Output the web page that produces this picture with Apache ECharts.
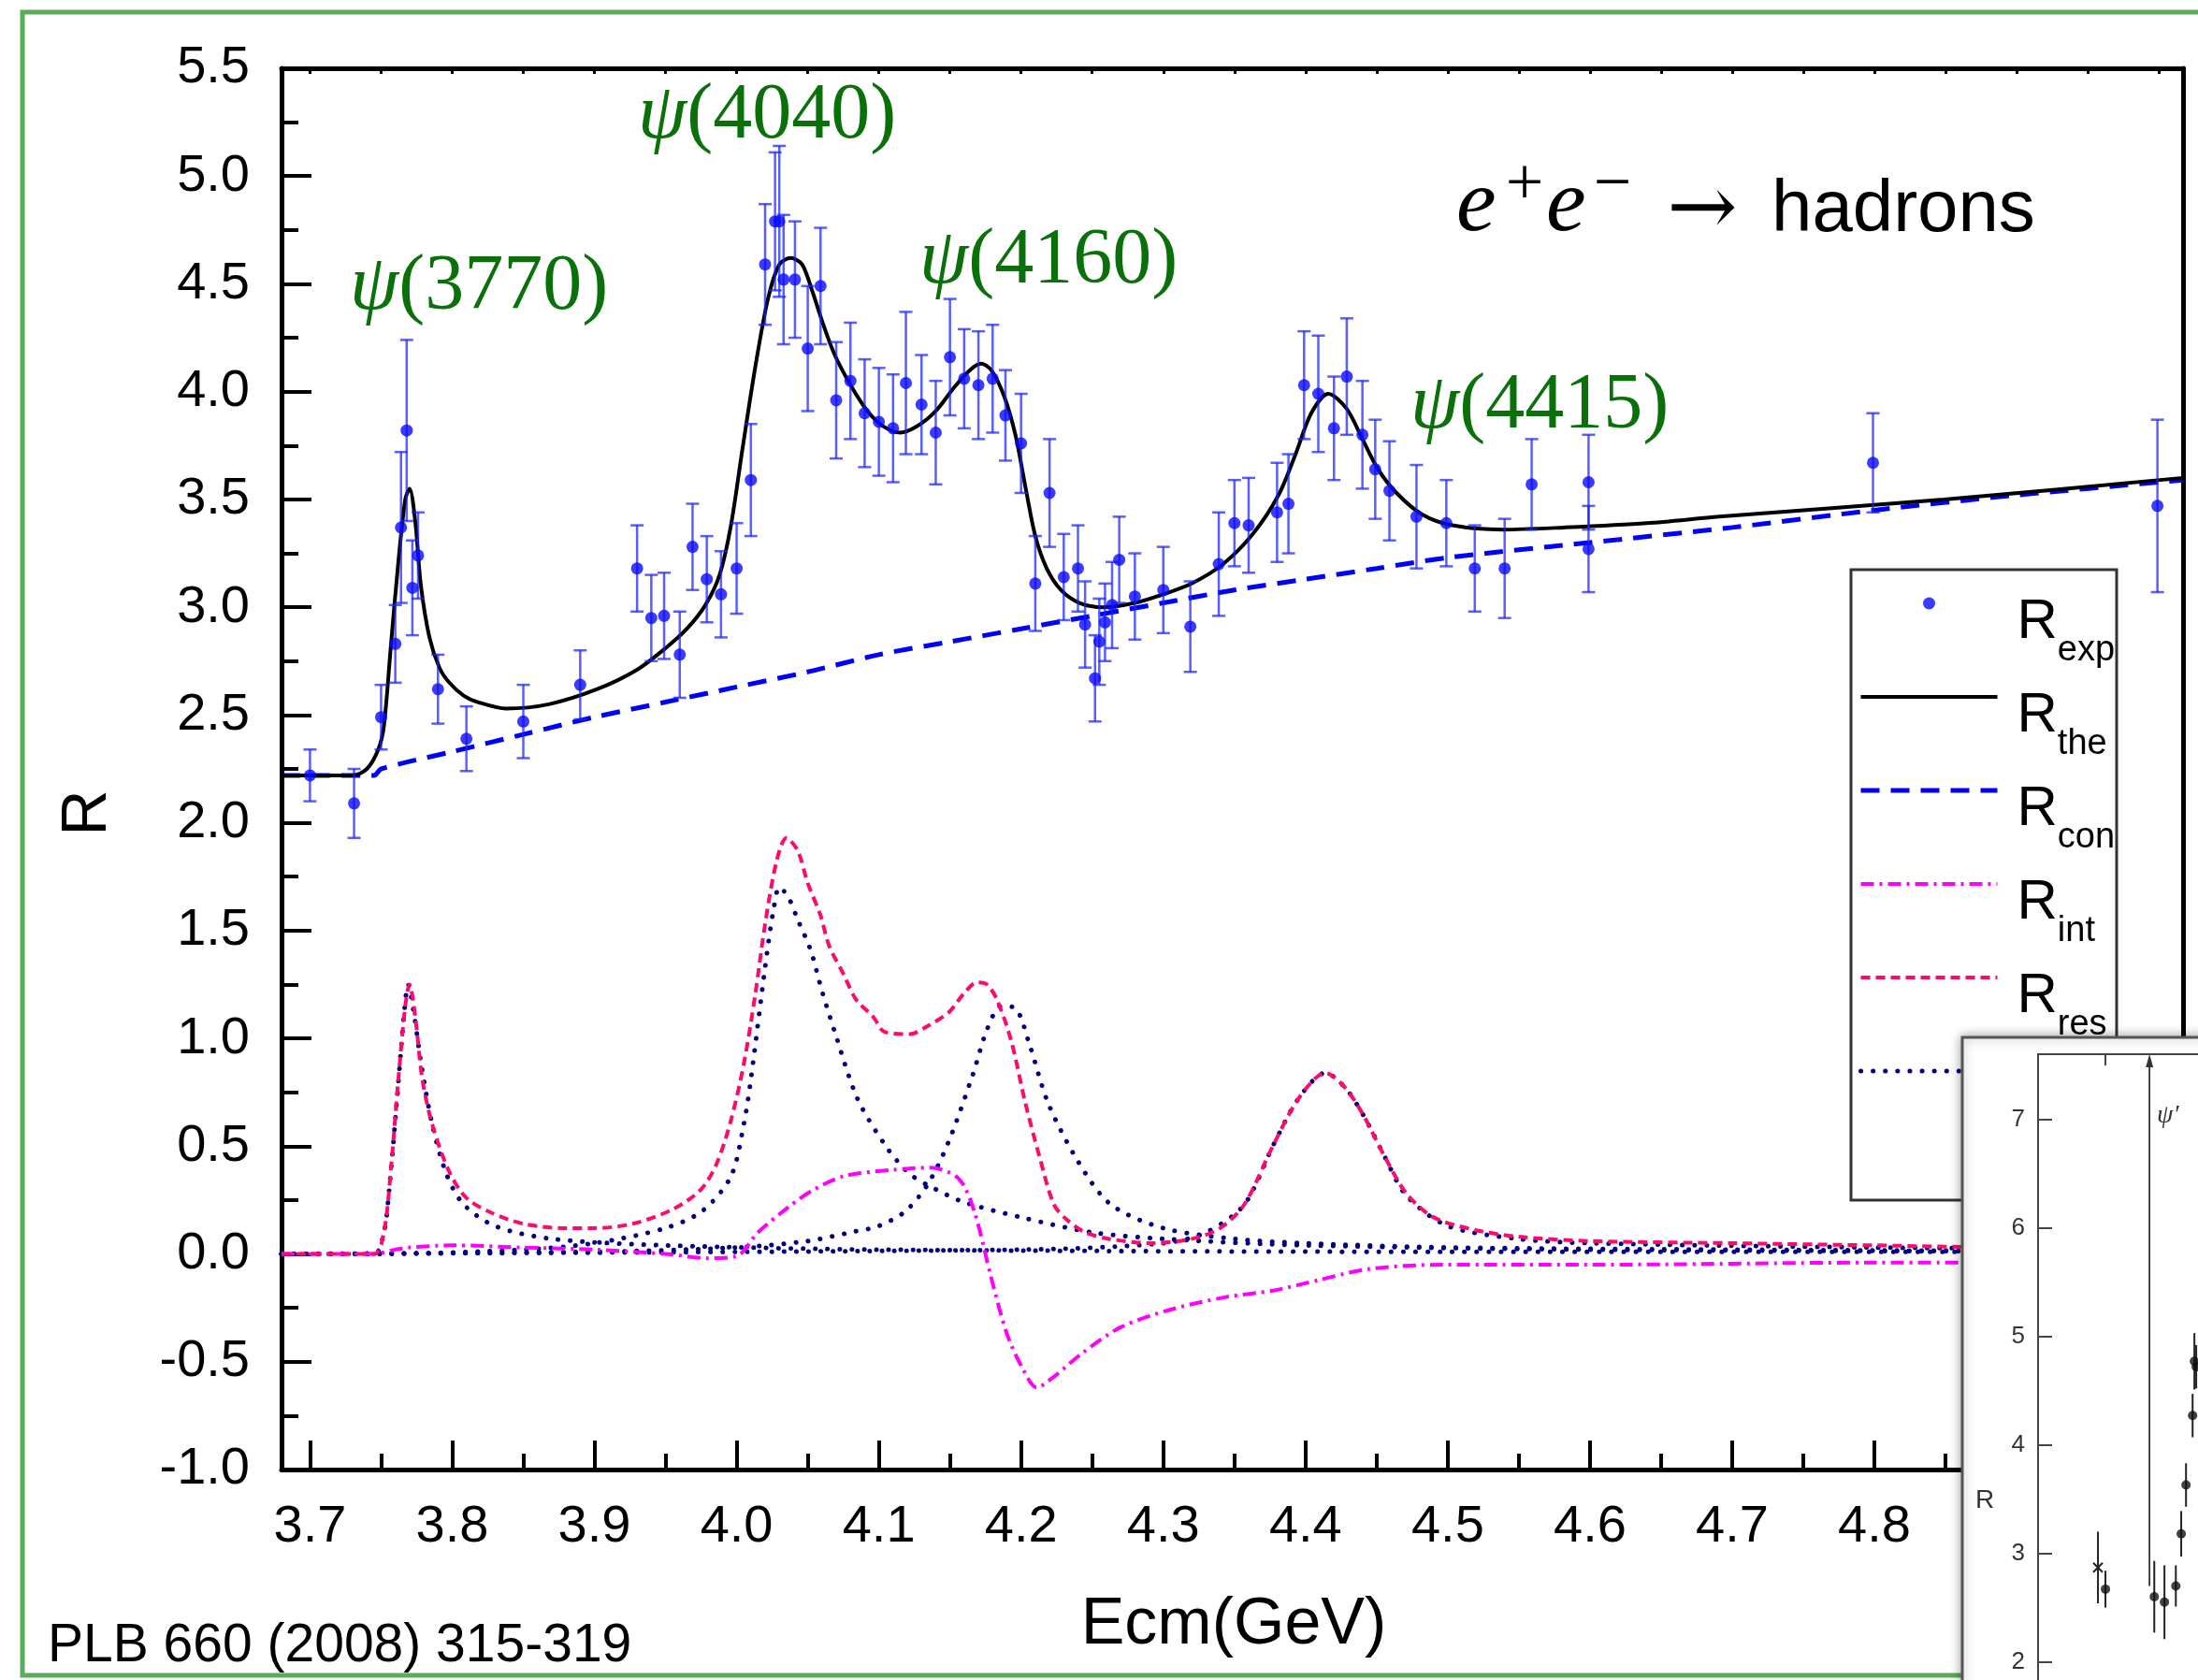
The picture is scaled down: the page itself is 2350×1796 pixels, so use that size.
<!DOCTYPE html>
<html><head><meta charset="utf-8">
<script src="https://cdn.jsdelivr.net/npm/echarts@6/dist/echarts.min.js"></script>
<style>html,body{margin:0;padding:0;background:#fff}#c{width:2350px;height:1796px}</style>
</head><body><div id="c"></div>
<script>
// ---------- axis ticks ----------
const X_MAJOR = [3.7,3.8,3.9,4.0,4.1,4.2,4.3,4.4,4.5,4.6,4.7,4.8,4.9,5.0];
const X_LABELS = [3.7,3.8,3.9,4.0,4.1,4.2,4.3,4.4,4.5,4.6,4.7,4.8];
const X_MINOR = [3.75,3.85,3.95,4.05,4.15,4.25,4.35,4.45,4.55,4.65,4.75,4.85,4.95];
const X_TOP = [3.7,3.75,3.8,3.85,3.9,3.95,4.0,4.05,4.1,4.15,4.2,4.25,4.3,4.35,4.4,4.45,4.5,4.55,4.6,4.65,4.7,4.75,4.8,4.85,4.9,4.95,5.0];

// ---------- experimental points [E, R, error] ----------
const R_EXP = [
 [3.700,2.22,0.12],[3.731,2.09,0.16],[3.750,2.49,0.15],[3.760,2.83,0.18],[3.764,3.37,0.35],
 [3.768,3.82,0.42],[3.772,3.09,0.22],[3.776,3.24,0.20],[3.790,2.62,0.16],[3.810,2.39,0.15],
 [3.850,2.47,0.17],[3.890,2.64,0.16],[3.930,3.18,0.20],[3.940,2.95,0.20],[3.949,2.96,0.20],
 [3.960,2.78,0.20],[3.969,3.28,0.20],[3.979,3.13,0.20],[3.989,3.06,0.20],[4.000,3.18,0.21],
 [4.010,3.59,0.26],[4.020,4.59,0.28],[4.027,4.79,0.32],[4.030,4.79,0.35],[4.033,4.52,0.30],
 [4.041,4.52,0.27],[4.050,4.20,0.29],[4.059,4.49,0.27],[4.070,3.96,0.27],[4.080,4.05,0.27],
 [4.090,3.90,0.25],[4.100,3.86,0.25],[4.110,3.83,0.25],[4.119,4.04,0.33],[4.130,3.94,0.23],
 [4.140,3.81,0.24],[4.150,4.16,0.27],[4.160,4.06,0.23],[4.170,4.03,0.25],[4.180,4.06,0.25],
 [4.189,3.89,0.21],[4.200,3.76,0.23],[4.210,3.11,0.22],[4.220,3.53,0.25],[4.230,3.14,0.20],
 [4.240,3.18,0.20],[4.245,2.92,0.20],[4.252,2.67,0.20],[4.255,2.84,0.20],[4.259,2.93,0.18],
 [4.264,3.01,0.20],[4.269,3.22,0.20],[4.280,3.05,0.20],[4.300,3.08,0.20],[4.319,2.91,0.21],
 [4.339,3.20,0.24],[4.350,3.39,0.20],[4.360,3.38,0.22],[4.380,3.44,0.23],[4.388,3.48,0.23],
 [4.399,4.03,0.25],[4.409,3.99,0.27],[4.420,3.83,0.24],[4.429,4.07,0.27],[4.440,3.80,0.25],
 [4.449,3.64,0.23],[4.459,3.54,0.23],[4.478,3.42,0.24],[4.499,3.39,0.20],[4.519,3.18,0.20],
 [4.540,3.18,0.23],[4.559,3.57,0.21],[4.599,3.58,0.22],[4.599,3.27,0.20],[4.799,3.67,0.23],
 [4.999,3.47,0.40]
];

// ---------- theory curves [E, R] ----------
const R_THE = [
 [3.68,2.22],[3.70,2.22],[3.73,2.22],[3.74,2.25],[3.748,2.34],[3.752,2.45],[3.757,2.83],[3.762,3.20],
 [3.767,3.50],[3.770,3.55],[3.774,3.40],[3.778,3.10],[3.784,2.86],[3.791,2.72],[3.798,2.65],[3.808,2.59],
 [3.818,2.56],[3.838,2.53],[3.868,2.55],[3.902,2.62],[3.930,2.71],[3.950,2.81],[3.965,2.90],[3.978,3.01],
 [3.988,3.15],[3.996,3.38],[4.004,3.73],[4.013,4.11],[4.022,4.43],[4.030,4.59],[4.038,4.62],[4.046,4.59],
 [4.053,4.47],[4.061,4.31],[4.069,4.17],[4.081,4.02],[4.092,3.91],[4.103,3.84],[4.115,3.81],[4.127,3.84],
 [4.140,3.91],[4.153,4.02],[4.164,4.10],[4.172,4.13],[4.179,4.10],[4.188,3.98],[4.196,3.80],[4.203,3.56],
 [4.210,3.33],[4.218,3.18],[4.228,3.08],[4.241,3.02],[4.258,3.00],[4.280,3.02],[4.300,3.06],[4.320,3.11],
 [4.342,3.20],[4.363,3.34],[4.381,3.52],[4.393,3.71],[4.404,3.90],[4.416,3.99],[4.429,3.92],[4.440,3.78],
 [4.451,3.64],[4.464,3.53],[4.482,3.43],[4.503,3.38],[4.539,3.36],[4.582,3.37],[4.640,3.39],[4.691,3.42],
 [4.849,3.50],[5.017,3.60]
];
const R_CON = [
 [3.68,2.22],[3.745,2.22],[3.75,2.25],[3.80,2.33],[3.85,2.41],[3.90,2.49],[3.95,2.56],[4.00,2.63],
 [4.05,2.70],[4.10,2.78],[4.15,2.84],[4.20,2.90],[4.25,2.96],[4.30,3.02],[4.35,3.08],[4.40,3.13],
 [4.45,3.18],[4.50,3.23],[4.60,3.30],[4.70,3.37],[4.80,3.45],[4.90,3.52],[5.017,3.59]
];
const R_INT = [
 [3.68,0],[3.745,0],[3.76,0.02],[3.77,0.03],[3.80,0.04],[3.85,0.03],[3.90,0.02],[3.95,0.0],
 [3.98,-0.02],[4.00,-0.01],[4.015,0.10],[4.035,0.21],[4.052,0.29],[4.075,0.36],[4.109,0.39],[4.136,0.40],
 [4.156,0.35],[4.167,0.20],[4.179,-0.11],[4.190,-0.37],[4.201,-0.53],[4.211,-0.62],[4.223,-0.57],[4.243,-0.46],
 [4.270,-0.34],[4.304,-0.26],[4.344,-0.20],[4.377,-0.17],[4.410,-0.12],[4.444,-0.07],[4.495,-0.05],[4.60,-0.05],
 [4.80,-0.04],[5.017,-0.04]
];
const R_RES = [
 [3.68,0],[3.745,0],[3.752,0.10],[3.757,0.40],[3.762,0.80],[3.767,1.15],[3.770,1.25],[3.774,1.10],
 [3.779,0.81],[3.786,0.60],[3.798,0.38],[3.810,0.26],[3.828,0.19],[3.850,0.14],[3.877,0.12],[3.900,0.12],
 [3.927,0.14],[3.956,0.21],[3.975,0.30],[3.986,0.42],[3.996,0.62],[4.005,0.88],[4.013,1.20],[4.020,1.53],
 [4.028,1.82],[4.035,1.93],[4.043,1.87],[4.050,1.72],[4.059,1.57],[4.065,1.43],[4.075,1.30],[4.084,1.18],
 [4.096,1.10],[4.104,1.03],[4.122,1.02],[4.135,1.06],[4.149,1.12],[4.160,1.21],[4.169,1.26],[4.176,1.25],
 [4.183,1.18],[4.193,0.99],[4.203,0.70],[4.213,0.45],[4.223,0.23],[4.232,0.16],[4.245,0.10],[4.262,0.07],
 [4.291,0.05],[4.320,0.07],[4.340,0.12],[4.357,0.23],[4.377,0.50],[4.395,0.72],[4.414,0.84],[4.428,0.77],
 [4.441,0.64],[4.455,0.46],[4.471,0.28],[4.490,0.17],[4.520,0.11],[4.550,0.08],[4.60,0.06],[4.70,0.05],
 [4.80,0.04],[4.90,0.03],[5.017,0.03]
];
const BW_3770 = [
 [3.68,0],[3.745,0],[3.752,0.10],[3.755,0.25],[3.761,0.70],[3.766,1.10],[3.769,1.25],[3.773,1.12],
 [3.778,0.89],[3.786,0.60],[3.796,0.37],[3.808,0.23],[3.83,0.13],[3.87,0.07],[3.95,0.04],[4.10,0.02],
 [4.50,0.01],[5.017,0.01]
];
const BW_4040 = [
 [3.68,0],[3.75,0],[3.85,0.02],[3.90,0.05],[3.95,0.12],[3.976,0.20],[3.996,0.36],[4.005,0.60],
 [4.010,0.81],[4.020,1.33],[4.026,1.60],[4.030,1.70],[4.036,1.66],[4.043,1.55],[4.052,1.41],[4.060,1.22],
 [4.069,1.03],[4.085,0.72],[4.106,0.49],[4.122,0.37],[4.140,0.30],[4.160,0.24],[4.20,0.17],[4.25,0.10],
 [4.30,0.07],[4.40,0.04],[4.60,0.02],[5.017,0.01]
];
const BW_4160 = [
 [3.68,0],[3.90,0.01],[4.00,0.03],[4.05,0.06],[4.08,0.10],[4.10,0.13],[4.119,0.20],[4.135,0.33],
 [4.149,0.52],[4.166,0.83],[4.176,1.04],[4.186,1.15],[4.196,1.14],[4.206,0.97],[4.219,0.70],[4.240,0.43],
 [4.263,0.23],[4.30,0.12],[4.35,0.07],[4.40,0.05],[4.50,0.03],[4.70,0.02],[5.017,0.01]
];
const BW_4415 = [
 [3.68,0],[4.20,0.02],[4.30,0.05],[4.33,0.10],[4.357,0.23],[4.377,0.50],[4.395,0.72],[4.414,0.84],
 [4.428,0.77],[4.441,0.64],[4.455,0.46],[4.471,0.27],[4.50,0.13],[4.55,0.07],[4.60,0.05],[4.80,0.03],
 [5.017,0.02]
];

// ---------- inset (older measurement) [E, R, error] ----------
const INSET_PTS = [
 [3.6125,2.67,0.17],[3.694,2.60,0.33],[3.711,2.55,0.34],[3.730,2.70,0.19],[3.739,3.18,0.21],
 [3.747,3.63,0.20],[3.758,4.27,0.20],[3.761,4.77,0.26],[3.764,4.72,0.20]
];
const INSET_CROSS = [[3.600,2.87,0.33]];
const INSET_ARROW = [[3.686,2.70,7.6]];
const INSET_Y_TICKS = [2,3,4,5,6,7];

const SANS = "'Liberation Sans', Arial, Helvetica, sans-serif";
const SERIF = "'Liberation Serif', 'Times New Roman', serif";
const GREEN = '#0a700a';

const chart = echarts.init(document.getElementById('c'), null, {renderer:'canvas', width:2350, height:1796});

function errRender(color, w, cap) {
  return function (params, api) {
    const x = api.value(0), y = api.value(1), e = api.value(2);
    const t = api.coord([x, y + e]), b = api.coord([x, y - e]);
    const st = {stroke: color, lineWidth: w};
    const ch = [{type:'line', shape:{x1:t[0],y1:t[1],x2:b[0],y2:b[1]}, style:st}];
    if (cap > 0) {
      ch.push({type:'line', shape:{x1:t[0]-cap,y1:t[1],x2:t[0]+cap,y2:t[1]}, style:st});
      ch.push({type:'line', shape:{x1:b[0]-cap,y1:b[1],x2:b[0]+cap,y2:b[1]}, style:st});
    }
    return {type:'group', children: ch};
  };
}
function crossRender(params, api) {
  const x = api.value(0), y = api.value(1), e = api.value(2);
  const c = api.coord([x, y]), t = api.coord([x, y + e]), b = api.coord([x, y - e]);
  const st = {stroke:'#222', lineWidth:2};
  const s = 5;
  return {type:'group', children:[
    {type:'line', shape:{x1:t[0],y1:t[1],x2:b[0],y2:b[1]}, style:st},
    {type:'line', shape:{x1:c[0]-s,y1:c[1]-s,x2:c[0]+s,y2:c[1]+s}, style:st},
    {type:'line', shape:{x1:c[0]-s,y1:c[1]+s,x2:c[0]+s,y2:c[1]-s}, style:st}
  ]};
}
function arrowRender(params, api) {
  const x = api.value(0), y1 = api.value(1), y2 = api.value(2);
  const b = api.coord([x, y1]), t = api.coord([x, y2]);
  return {type:'group', children:[
    {type:'line', shape:{x1:b[0],y1:b[1],x2:t[0],y2:t[1]+4}, style:{stroke:'#333', lineWidth:1.8}},
    {type:'polygon', shape:{points:[[t[0],t[1]],[t[0]-4,t[1]+14],[t[0]+4,t[1]+14]]}, style:{fill:'#333'}}
  ]};
}

const LEG = {
  'Rexp': '{R|R}{s|exp}', 'Rthe': '{R|R}{s|the}', 'Rcon': '{R|R}{s|con}',
  'Rint': '{R|R}{s|int}', 'Rres': '{R|R}{s|res}', 'Rbw': '{R| }{s| }'
};

function curve(name, data, color, width, dash, extra) {
  return Object.assign({
    name, type:'line', data, xAxisIndex:0, yAxisIndex:0, symbol:'none', smooth:0.3,
    z:3, itemStyle:{color},
    lineStyle:{color, width, type:dash}
  }, extra || {});
}
const DOT = {color:'#000080', width:5, type:[0.1,13], cap:'round'};

const option = {
  animation:false,
  backgroundColor:'#ffffff',
  grid:[
    {left:301, top:73, width:2033, height:1498},
    {left:2179, top:1127, right:0, bottom:0, zlevel:1}
  ],
  xAxis:[
    {gridIndex:0, type:'value', position:'bottom', min:3.68, max:5.017,
     axisLine:{show:true, onZero:false, lineStyle:{color:'#000', width:5}},
     axisTick:{show:true, inside:true, length:31, customValues:X_MAJOR, lineStyle:{color:'#000', width:4}},
     axisLabel:{show:true, customValues:X_LABELS, margin:34, fontSize:56, fontFamily:SANS, color:'#000',
       formatter:v => v.toFixed(1)},
     splitLine:{show:false}},
    {gridIndex:0, type:'value', position:'bottom', min:3.68, max:5.017,
     axisLine:{show:false, onZero:false},
     axisTick:{show:true, inside:true, length:17, customValues:X_MINOR, lineStyle:{color:'#000', width:4}},
     axisLabel:{show:false}, splitLine:{show:false}},
    {gridIndex:0, type:'value', position:'top', min:3.68, max:5.017,
     axisLine:{show:true, onZero:false, lineStyle:{color:'#000', width:5}},
     axisTick:{show:true, inside:true, length:6, customValues:X_TOP, lineStyle:{color:'#000', width:3}},
     axisLabel:{show:false}, splitLine:{show:false}},
    {gridIndex:1, type:'value', position:'bottom', min:3.5, max:3.767, show:false, zlevel:1},
    {gridIndex:1, type:'value', position:'top', min:3.5, max:3.767, zlevel:1, z:5,
     axisLine:{show:true, onZero:false, lineStyle:{color:'#444', width:2}},
     axisTick:{show:true, inside:true, length:12, customValues:[3.6125], lineStyle:{color:'#444', width:2}},
     axisLabel:{show:false}, splitLine:{show:false}}
  ],
  yAxis:[
    {gridIndex:0, type:'value', position:'left', min:-1, max:5.5, interval:0.5,
     axisLine:{show:true, onZero:false, lineStyle:{color:'#000', width:5}},
     axisTick:{show:true, inside:true, length:32, lineStyle:{color:'#000', width:4}},
     minorTick:{show:true, splitNumber:2, length:18, lineStyle:{color:'#000', width:4}},
     axisLabel:{margin:34, fontSize:56, fontFamily:SANS, color:'#000', formatter:v => v.toFixed(1)},
     splitLine:{show:false}},
    {gridIndex:0, type:'value', position:'right', min:-1, max:5.5, interval:0.5,
     axisLine:{show:true, onZero:false, lineStyle:{color:'#000', width:5}},
     axisTick:{show:false}, axisLabel:{show:false}, splitLine:{show:false}},
    {gridIndex:1, type:'value', position:'left', min:1.833, max:7.6, zlevel:1, z:5,
     axisLine:{show:true, onZero:false, lineStyle:{color:'#444', width:2}},
     axisTick:{show:true, inside:true, length:15, customValues:INSET_Y_TICKS, lineStyle:{color:'#444', width:2}},
     axisLabel:{margin:14, fontSize:26, fontFamily:SANS, color:'#333', customValues:INSET_Y_TICKS,
       formatter:v => String(Math.round(v))},
     splitLine:{show:false}}
  ],
  legend:{
    orient:'vertical', left:1987, top:615, padding:0, itemGap:0,
    itemWidth:146, itemHeight:13, selectedMode:false,
    lineStyle:{width:'inherit'},
    data:[
      {name:'Rexp'},
      {name:'Rthe', itemStyle:{opacity:0}},
      {name:'Rcon', itemStyle:{opacity:0}},
      {name:'Rint', itemStyle:{opacity:0}},
      {name:'Rres', itemStyle:{opacity:0}},
      {name:'Rbw', itemStyle:{opacity:0}}
    ],
    formatter: n => LEG[n],
    textStyle:{
      fontFamily:SANS, color:'#000',
      rich:{
        R:{fontSize:60, fontFamily:SANS, color:'#000', lineHeight:60, padding:[20,0,20,16], verticalAlign:'top'},
        s:{fontSize:38, fontFamily:SANS, color:'#000', lineHeight:38, padding:[62,0,0,0], verticalAlign:'top'}
      }
    }
  },
  series:[
    curve('Rcon', R_CON, '#0000ff', 5, [20,12]),
    curve('Rbw', BW_3770, '#000080', 5, [0.1,13], {lineStyle:DOT}),
    curve('Rbw', BW_4040, '#000080', 5, [0.1,13], {lineStyle:DOT}),
    curve('Rbw', BW_4160, '#000080', 5, [0.1,13], {lineStyle:DOT}),
    curve('Rbw', BW_4415, '#000080', 5, [0.1,13], {lineStyle:DOT}),
    curve('Rint', R_INT, '#ff00ff', 4, [14,6,3,6]),
    curve('Rres', R_RES, '#ff0a6a', 4, [10,6]),
    curve('Rthe', R_THE, '#000000', 4, 'solid', {z:4}),
    {name:'errs', type:'custom', xAxisIndex:0, yAxisIndex:0, data:R_EXP, z:5,
     encode:{x:0, y:1}, renderItem: errRender('rgba(25,35,255,0.72)', 2.5, 7)},
    {name:'Rexp', type:'scatter', xAxisIndex:0, yAxisIndex:0, data:R_EXP.map(p => [p[0], p[1]]),
     symbol:'circle', symbolSize:13, z:6, itemStyle:{color:'#0a0aff'}},
    // inset
    {name:'insetArrow', type:'custom', xAxisIndex:3, yAxisIndex:2, data:INSET_ARROW, zlevel:1, z:6,
     encode:{x:0, y:1}, renderItem: arrowRender},
    {name:'insetErr', type:'custom', xAxisIndex:3, yAxisIndex:2, data:INSET_PTS, zlevel:1, z:6,
     encode:{x:0, y:1}, renderItem: errRender('#222', 2, 0)},
    {name:'insetCross', type:'custom', xAxisIndex:3, yAxisIndex:2, data:INSET_CROSS, zlevel:1, z:6,
     encode:{x:0, y:1}, renderItem: crossRender},
    {name:'insetPts', type:'scatter', xAxisIndex:3, yAxisIndex:2, zlevel:1, z:7,
     data:INSET_PTS.map(p => [p[0], p[1]]), symbol:'circle', symbolSize:10, itemStyle:{color:'#111'}}
  ],
  graphic:[
    {type:'rect', z:0, silent:true, shape:{x:24, y:13, width:2400, height:1778},
     style:{fill:'none', stroke:'#5aab5a', lineWidth:5}},
    {type:'rect', z:1, silent:true, shape:{x:1979, y:609, width:284, height:674},
     style:{fill:'none', stroke:'#333', lineWidth:3}},
    {type:'text', z:10, style:{x:682, y:125, text:'{p|ψ}(4040)', font:'84px '+SERIF, fill:GREEN, verticalAlign:'middle',
      rich:{p:{fontStyle:'italic', fontSize:84, fontFamily:SERIF, fill:GREEN}}}},
    {type:'text', z:10, style:{x:374, y:308, text:'{p|ψ}(3770)', font:'84px '+SERIF, fill:GREEN, verticalAlign:'middle',
      rich:{p:{fontStyle:'italic', fontSize:84, fontFamily:SERIF, fill:GREEN}}}},
    {type:'text', z:10, style:{x:983, y:280, text:'{p|ψ}(4160)', font:'84px '+SERIF, fill:GREEN, verticalAlign:'middle',
      rich:{p:{fontStyle:'italic', fontSize:84, fontFamily:SERIF, fill:GREEN}}}},
    {type:'text', z:10, style:{x:1508, y:435, text:'{p|ψ}(4415)', font:'84px '+SERIF, fill:GREEN, verticalAlign:'middle',
      rich:{p:{fontStyle:'italic', fontSize:84, fontFamily:SERIF, fill:GREEN}}}},
    {type:'text', z:10, style:{x:1557, y:221, text:'e', font:'italic 96px '+SERIF, fill:'#000', verticalAlign:'middle'}},
    {type:'text', z:10, style:{x:1630, y:199, text:'+', font:'72px '+SERIF, fill:'#000', align:'center', verticalAlign:'middle'}},
    {type:'text', z:10, style:{x:1653, y:221, text:'e', font:'italic 96px '+SERIF, fill:'#000', verticalAlign:'middle'}},
    {type:'text', z:10, style:{x:1724, y:199, text:'−', font:'72px '+SERIF, fill:'#000', align:'center', verticalAlign:'middle'}},
    {type:'text', z:10, style:{x:1820, y:228, text:'→', font:"90px 'DejaVu Serif', serif", fill:'#000', align:'center', verticalAlign:'middle'}},
    {type:'text', z:10, style:{x:1894, y:225, text:'hadrons', font:'78px '+SANS, fill:'#000', verticalAlign:'middle'}},
    {type:'text', z:10, style:{x:1319, y:1738, text:'Ecm(GeV)', font:'70px '+SANS, fill:'#000', align:'center', verticalAlign:'middle'}},
    {type:'text', z:10, x:94, y:869, rotation:Math.PI/2,
     style:{x:0, y:0, text:'R', font:'68px '+SANS, fill:'#000', align:'center', verticalAlign:'middle'}},
    {type:'text', z:10, style:{x:51, y:1760, text:'PLB 660 (2008) 315-319', font:'57px '+SANS, fill:'#000', verticalAlign:'middle'}},
    {type:'rect', zlevel:1, z:1, silent:true, shape:{x:2098, y:1109, width:320, height:760},
     style:{fill:'#ffffff', stroke:'#555', lineWidth:3, shadowBlur:12, shadowColor:'rgba(0,0,0,0.35)'}},
    {type:'text', zlevel:1, z:10, style:{x:2122, y:1604, text:'R', font:'28px '+SANS, fill:'#333', align:'center', verticalAlign:'middle'}},
    {type:'text', zlevel:1, z:10, style:{x:2306, y:1193, text:'ψ′', font:'italic 28px '+SERIF, fill:'#333', verticalAlign:'middle'}}
  ]
};
chart.setOption(option);
</script>
</body></html>
